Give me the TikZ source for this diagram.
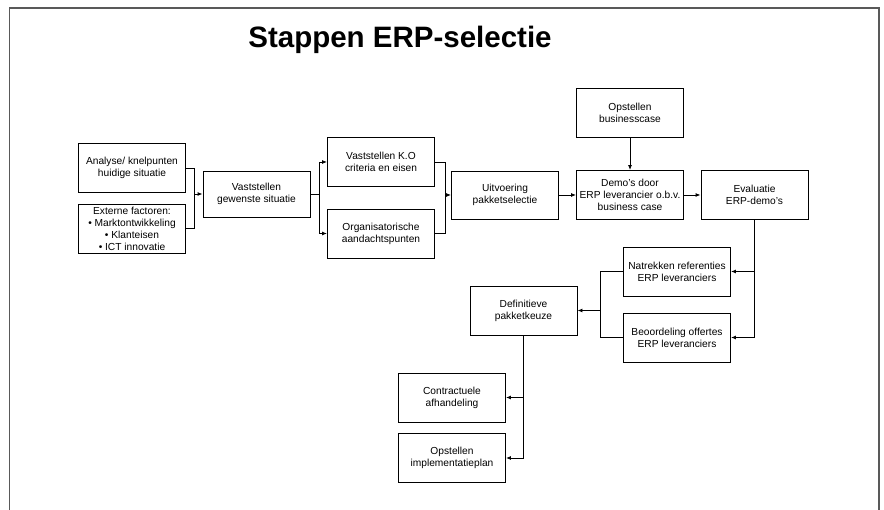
\documentclass[tikz,border=0pt]{standalone}
\usepackage{fontspec}
\setmainfont{Liberation Sans}
\usetikzlibrary{arrows.meta}
\begin{document}
\begin{tikzpicture}[x=1pt,y=-1pt,
  box/.style={draw=black, line width=0.9pt, fill=white, minimum width=107pt, minimum height=49pt, align=center, inner sep=1pt, font=\fontsize{10.2}{12}\selectfont},
  conn/.style={draw=black, line width=0.9pt},
  arr/.style={conn, -{Latex[length=5pt,width=4pt]}}]
\useasboundingbox (0,0) rectangle (884,510);
\draw[gray!70!black, line width=1.6pt] (9.5,510) -- (9.5,8) -- (879,8) -- (879,510);
\node[font=\fontsize{29.5}{32}\selectfont\bfseries] (title) at (400,40) {Stappen ERP-selectie};

\node[box] (ana) at (132,168) {Analyse/ knelpunten\\huidige situatie};
\node[box] (ext) at (132,228.5) {Externe factoren:\\\textbullet{} Marktontwikkeling\\\textbullet{} Klanteisen\\\textbullet{} ICT innovatie};
\node[box, minimum height=46pt] (vast) at (256.5,194) {Vaststellen\\gewenste situatie};
\node[box] (ko) at (381,162) {Vaststellen K.O\\criteria en eisen};
\node[box] (org) at (381,233.5) {Organisatorische\\aandachtspunten};
\node[box, minimum height=48pt] (uit) at (505,195) {Uitvoering\\pakketselectie};
\node[box] (bus) at (630,112.5) {Opstellen\\businesscase};
\node[box] (demo) at (630,195) {Demo's door\\ERP leverancier o.b.v.\\business case};
\node[box] (eval) at (754.5,195) {Evaluatie\\ERP-demo's};
\node[box] (nat) at (677,271.5) {Natrekken referenties\\ERP leveranciers};
\node[box] (beo) at (677,337.5) {Beoordeling offertes\\ERP leveranciers};
\node[box] (def) at (523.5,310.5) {Definitieve\\pakketkeuze};
\node[box] (con) at (452,397.5) {Contractuele\\afhandeling};
\node[box] (imp) at (452,458) {Opstellen\\implementatieplan};

\coordinate (j1) at (194,194);
\coordinate (j2) at (319,194);
\coordinate (j3) at (445,195);
\coordinate (j4) at (754.5,337.5);
\coordinate (j5) at (600,310.5);
\coordinate (j6) at (523.5,458);

\draw[conn] (ana.east) -| (j1);
\draw[conn] (ext.east) -| (j1);
\draw[arr] (j1) -- (vast.west);
\draw[conn] (vast.east) -- (j2);
\draw[arr] (j2) |- (ko.west);
\draw[arr] (j2) |- (org.west);
\draw[conn] (ko.east) -| (j3);
\draw[conn] (org.east) -| (j3);
\draw[arr] (j3) -- (uit.west);
\draw[arr] (uit.east) -- (demo.west);
\draw[arr] (bus.south) -- (demo.north);
\draw[arr] (demo.east) -- (eval.west);
\draw[conn] (eval.south) -- (j4);
\draw[arr] (j4) -- (beo.east);
\draw[arr] (eval.south |- nat.east) -- (nat.east);
\draw[conn] (nat.west) -| (j5);
\draw[conn] (beo.west) -| (j5);
\draw[arr] (j5) -- (def.east);
\draw[conn] (def.south) -- (j6);
\draw[arr] (j6) -- (imp.east);
\draw[arr] (def.south |- con.east) -- (con.east);
\end{tikzpicture}
\end{document}
